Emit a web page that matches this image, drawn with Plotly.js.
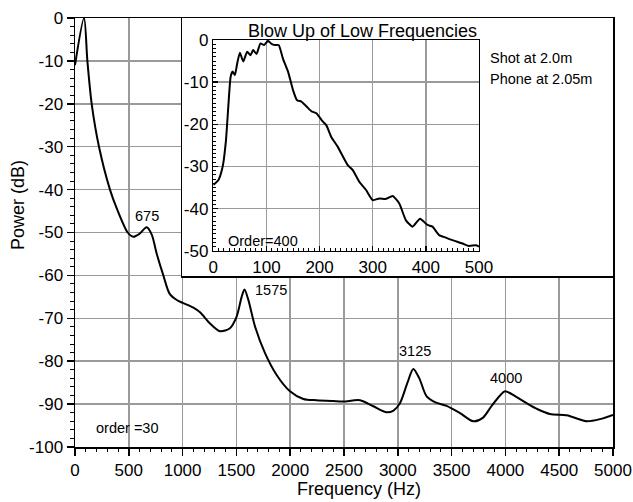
<!DOCTYPE html>
<html>
<head>
<meta charset="utf-8">
<script src="https://cdn.plot.ly/plotly-3.0.1.min.js"></script>
<style>html,body{margin:0;padding:0;background:#fff;}#chart{width:633px;height:502px;}</style>
</head>
<body>
<div id="chart"></div>
<script>
// ---------- data ----------
var mainFreq = [0, 84, 115, 155, 223, 325, 390, 490, 542, 600, 666, 713, 760, 821, 880, 950, 1000, 1100, 1162, 1255, 1348, 1440, 1502, 1549, 1575, 1611, 1673, 1766, 1874, 1998, 2122, 2246, 2400, 2494, 2649, 2773, 2897, 2960, 3020, 3090, 3144, 3200, 3268, 3350, 3454, 3578, 3702, 3790, 3870, 3950, 3996, 4100, 4198, 4300, 4414, 4570, 4670, 4756, 4879, 5000];
var mainPower = [-11, 0, -10, -20, -30, -40, -44.5, -50, -51, -50.3, -48.8, -50.5, -55, -60, -64.3, -65.8, -66.4, -67.5, -68.6, -71.2, -73, -72.3, -69.6, -65, -63.3, -65.7, -71.9, -78.1, -83.2, -87, -88.8, -89.1, -89.3, -89.4, -89.1, -90.5, -91.9, -91.5, -89.8, -85, -81.8, -84, -88.2, -89.6, -90.4, -92.1, -94, -93.2, -90.5, -88, -87, -88.3, -89.8, -91.2, -92.3, -92.6, -93.4, -94, -93.5, -92.5];

var insetFreq = [0, 9.4, 17.5, 23.8, 28.2, 32.6, 36.3, 40.6, 45, 50, 56.3, 63.8, 70, 75, 81.3, 88.8, 95.6, 103, 109.4, 115.6, 123, 131, 140.6, 150, 157.5, 165.6, 175, 184.5, 194, 205, 212.6, 222, 234, 253, 262.5, 275, 287.5, 300, 312.5, 325, 337.5, 350, 362.5, 375, 389, 403, 412.5, 425, 437.5, 450, 469, 481, 494, 500];
var insetPower = [-34.4, -33.3, -30.1, -23.8, -15.8, -8.7, -7.5, -8.3, -5.5, -3.0, -5.1, -2.8, -3.6, -2.4, -3.3, -0.8, -1.2, -0.2, -0.9, -1.2, -1.2, -4.4, -7.5, -11.9, -14.3, -14.6, -15.7, -16.9, -17.4, -19.2, -20.2, -23, -25.3, -29.7, -30.9, -33.7, -35.6, -38, -37.6, -37.7, -37, -38.8, -42.8, -44.3, -42.4, -43.9, -44.3, -46.3, -46.9, -47.5, -48.3, -48.9, -48.7, -49];

var mainXTicks = [0, 500, 1000, 1500, 2000, 2500, 3000, 3500, 4000, 4500, 5000];
var mainXLabels = ["0", "500", "1000", "1500", "2000", "2500", "3000", "3500", "4000", "4500", "5000"];
var mainYTicks = [0, -10, -20, -30, -40, -50, -60, -70, -80, -90, -100];
var mainYLabels = ["0", "-10", "-20", "-30", "-40", "-50", "-60", "-70", "-80", "-90", "-100"];
var insetXTicks = [0, 100, 200, 300, 400, 500];
var insetXLabels = ["0", "100", "200", "300", "400", "500"];
var insetYTicks = [0, -10, -20, -30, -40, -50];
var insetYLabels = ["0", "-10", "-20", "-30", "-40", "-50"];

var peakLabels = ["675", "1575", "3125", "4000"];

// ---------- style ----------
var FONT = "Liberation Sans, Arial, Helvetica, sans-serif";
var GRID = "#9a9a9a";

function minorVals(lo, hi, step, majors) {
  var out = [];
  var n = Math.round((hi - lo) / step);
  for (var i = 0; i <= n; i++) {
    var v = +(lo + i * step).toFixed(6);
    if (majors.indexOf(v) < 0) out.push(v);
  }
  return out;
}

function emptyOn(xa, ya) {
  return {x: [null], y: [null], xaxis: xa, yaxis: ya, type: 'scatter', mode: 'lines', hoverinfo: 'skip', showlegend: false};
}

var traces = [
  {x: mainFreq, y: mainPower, xaxis: 'x', yaxis: 'y', type: 'scatter', mode: 'lines',
   line: {color: '#000', width: 2, shape: 'spline', smoothing: 0.8}, hoverinfo: 'skip', showlegend: false},
  emptyOn('x4', 'y'),
  emptyOn('x', 'y4'),
  emptyOn('x2', 'y2'),
  {x: insetFreq, y: insetPower, xaxis: 'x3', yaxis: 'y3', type: 'scatter', mode: 'lines',
   line: {color: '#000', width: 2, shape: 'spline', smoothing: 0.5}, hoverinfo: 'skip', showlegend: false},
  emptyOn('x5', 'y3'),
  emptyOn('x3', 'y5')
];

function majorAxis(extra) {
  var a = {
    showline: true, linecolor: '#000', linewidth: 1.5, mirror: true,
    showgrid: true, gridcolor: GRID, gridwidth: 1.5, zeroline: false,
    tickmode: 'array', tickcolor: '#000', tickwidth: 1.5,
    tickfont: {family: FONT, size: 17, color: '#000'}, fixedrange: true
  };
  for (var k in extra) a[k] = extra[k];
  return a;
}

function minorAxis(extra) {
  var a = {
    showline: false, showgrid: false, zeroline: false, showticklabels: false,
    tickmode: 'array', tickcolor: '#000', tickwidth: 1, ticklen: 4, fixedrange: true
  };
  for (var k in extra) a[k] = extra[k];
  return a;
}

var peakY = [-46.1, -63.4, -77.7, -83.9];
var peakX = [673, 1817, 3160, 4006];

function txt(o, size) {
  o.showarrow = false;
  if (!o.xanchor) o.xanchor = 'center';
  if (!o.yanchor) o.yanchor = 'middle';
  o.font = {family: FONT, size: size, color: '#000'};
  return o;
}

var annotations = [];
for (var i = 0; i < peakLabels.length; i++) {
  annotations.push(txt({xref: 'x', yref: 'y', x: peakX[i], y: peakY[i], text: peakLabels[i]}, 14.5));
}
annotations.push(txt({xref: 'x', yref: 'y', x: 480, y: -95.6, text: 'order =30'}, 14.5));
annotations.push(txt({xref: 'x3', yref: 'y3', x: 92.8, y: -47.7, text: 'Order=400'}, 14.5));
annotations.push(txt({xref: 'paper', yref: 'paper', x: 0.7677, y: 0.9068, xanchor: 'left', text: 'Shot at 2.0m'}, 14.5));
annotations.push(txt({xref: 'paper', yref: 'paper', x: 0.7677, y: 0.8578, xanchor: 'left', text: 'Phone at 2.05m'}, 14.5));
annotations.push(txt({xref: 'paper', yref: 'paper', x: 0.5353, y: 0.9697, text: 'Blow Up of Low Frequencies'}, 18));
annotations.push(txt({xref: 'paper', yref: 'paper', x: 0.5279, y: -0.0979, text: 'Frequency (Hz)'}, 18));
annotations.push(txt({xref: 'paper', yref: 'paper', x: -0.106, y: 0.564, text: 'Power (dB)', textangle: -90}, 18));

var layout = {
  width: 633, height: 502,
  margin: {l: 75, r: 20, t: 18, b: 55, pad: 0},
  paper_bgcolor: '#fff', plot_bgcolor: '#fff',
  font: {family: FONT, color: '#000'},
  showlegend: false,
  xaxis: majorAxis({domain: [0, 1], range: [0, 5000], anchor: 'y', tickvals: mainXTicks, ticktext: mainXLabels,
    ticks: 'outside', ticklen: 7}),
  yaxis: majorAxis({domain: [0, 1], range: [-100, 0], anchor: 'x', tickvals: mainYTicks, ticktext: mainYLabels,
    ticks: 'outside', ticklen: 7}),
  xaxis4: minorAxis({overlaying: 'x', anchor: 'y', side: 'bottom', range: [0, 5000],
    tickvals: minorVals(0, 5000, 100, mainXTicks), ticks: 'outside'}),
  yaxis4: minorAxis({overlaying: 'y', anchor: 'x', side: 'left', range: [-100, 0],
    tickvals: minorVals(-100, 0, 2, mainYTicks), ticks: 'outside'}),
  xaxis2: {domain: [0.1989, 1], range: [0, 1], anchor: 'y2', showline: true, mirror: true, linecolor: '#000', linewidth: 1.5,
    showgrid: false, zeroline: false, showticklabels: false, ticks: '', fixedrange: true},
  yaxis2: {domain: [0.3986, 1], range: [0, 1], anchor: 'x2', showline: true, mirror: true, linecolor: '#000', linewidth: 1.5,
    showgrid: false, zeroline: false, showticklabels: false, ticks: '', fixedrange: true},
  xaxis3: majorAxis({domain: [0.2571, 0.7509], range: [0, 500], anchor: 'y3', tickvals: insetXTicks, ticktext: insetXLabels,
    ticks: 'inside', ticklen: 5}),
  yaxis3: majorAxis({domain: [0.4576, 0.9487], range: [-50, 0], anchor: 'x3', tickvals: insetYTicks, ticktext: insetYLabels,
    ticks: 'inside', ticklen: 5}),
  xaxis5: minorAxis({overlaying: 'x3', anchor: 'y3', side: 'bottom', range: [0, 500],
    tickvals: minorVals(0, 500, 10, insetXTicks), ticks: 'inside', ticklen: 3}),
  yaxis5: minorAxis({overlaying: 'y3', anchor: 'x3', side: 'left', range: [-50, 0],
    tickvals: minorVals(-50, 0, 1, insetYTicks), ticks: 'inside', ticklen: 3}),
  shapes: [
    {type: 'rect', xref: 'x2', yref: 'y2', x0: 0, x1: 1, y0: 0, y1: 1, fillcolor: '#fff', line: {width: 0}, layer: 'below'}
  ],
  annotations: annotations
};

Plotly.newPlot('chart', traces, layout, {staticPlot: true, displayModeBar: false});
</script>
</body>
</html>
